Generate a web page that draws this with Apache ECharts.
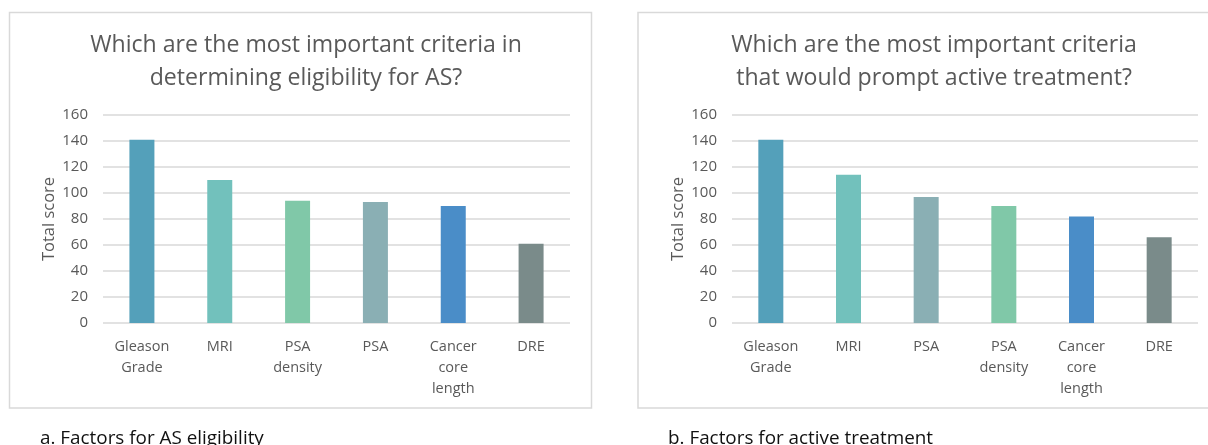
<!DOCTYPE html>
<html><head><meta charset="utf-8">
<script src="https://cdn.jsdelivr.net/npm/echarts@6/dist/echarts.min.js"></script>
<style>html,body{margin:0;padding:0;background:#fff}#c{width:1208px;height:445px}</style>
</head><body><div id="c"></div>
<script>
// ---- data ----
const titleA = 'Which are the most important criteria in\ndetermining eligibility for AS?';
const titleB = 'Which are the most important criteria\nthat would prompt active treatment?';
const captionA = 'a. Factors for AS eligibility';
const captionB = 'b. Factors for active treatment';
const yAxisName = 'Total score';
const categoriesA = ['Gleason Grade', 'MRI', 'PSA density', 'PSA', 'Cancer core length', 'DRE'];
const scoresA = [141, 110, 94, 93, 90, 61];
const categoriesB = ['Gleason Grade', 'MRI', 'PSA', 'PSA density', 'Cancer core length', 'DRE'];
const scoresB = [141, 114, 97, 90, 82, 66];
const yMin = 0, yMax = 160, yStep = 20;

// ---- styles ----
const palette = {
  'Gleason Grade': '#54A0BA',
  'MRI': '#72C1BC',
  'PSA density': '#80C8A8',
  'PSA': '#8AAFB4',
  'Cancer core length': '#4A8DC8',
  'DRE': '#7A8B8A'
};
const FONT = "'Open Sans', sans-serif";
const GRAY = '#595959';
const LINE = '#d9d9d9';

function fitSize(text, target) {
  const ctx = document.createElement('canvas').getContext('2d');
  ctx.font = '100px ' + FONT;
  return 100 * target / ctx.measureText(text).width;
}
const titleSize = fitSize('Which are the most important criteria in', 432);
const captionSize = fitSize(captionA, 224);

function yAxis(gi) {
  return {
    type: 'value', gridIndex: gi, min: yMin, max: yMax, interval: yStep,
    name: yAxisName, nameLocation: 'middle', nameGap: 45,
    nameTextStyle: { fontFamily: FONT, fontSize: 16.5, color: GRAY },
    axisLine: { show: false }, axisTick: { show: false },
    axisLabel: { fontFamily: FONT, fontSize: 15, color: GRAY, margin: 15 },
    splitLine: { lineStyle: { color: LINE, width: 1.5 } }
  };
}
function xAxis(gi, cats) {
  return {
    type: 'category', gridIndex: gi, data: cats,
    axisLine: { show: false }, axisTick: { show: false },
    axisLabel: { interval: 0, fontFamily: FONT, fontSize: 14.5, color: GRAY, margin: 13, lineHeight: 21,
      formatter: v => v.split(' ').join('\n') }
  };
}
function bars(gi, cats, vals) {
  return {
    type: 'bar', xAxisIndex: gi, yAxisIndex: gi, barWidth: 25,
    data: vals.map((v, i) => ({ value: v, itemStyle: { color: palette[cats[i]] } }))
  };
}

const chart = echarts.init(document.getElementById('c'), null, { renderer: 'canvas' });
chart.setOption({
  animation: false,
  backgroundColor: '#fff',
  title: [
    { text: titleA, left: 301, top: 24, textAlign: 'center',
      textStyle: { fontFamily: FONT, fontWeight: 'normal', fontSize: titleSize, color: GRAY, lineHeight: 33 } },
    { text: titleB, left: 929, top: 24, textAlign: 'center',
      textStyle: { fontFamily: FONT, fontWeight: 'normal', fontSize: titleSize, color: GRAY, lineHeight: 33 } },
    { text: captionA, left: 35, top: 421,
      textStyle: { fontFamily: FONT, fontWeight: 'normal', fontSize: captionSize, color: '#111', lineHeight: 26 } },
    { text: captionB, left: 663, top: 421,
      textStyle: { fontFamily: FONT, fontWeight: 'normal', fontSize: captionSize, color: '#111', lineHeight: 26 } }
  ],
  graphic: [
    { type: 'rect', shape: { x: 9.5, y: 12.5, width: 582, height: 395.5 }, silent: true,
      style: { fill: 'none', stroke: LINE, lineWidth: 1.5 } },
    { type: 'rect', shape: { x: 638, y: 12.5, width: 620, height: 395.5 }, silent: true,
      style: { fill: 'none', stroke: LINE, lineWidth: 1.5 } }
  ],
  grid: [
    { left: 103, width: 467, top: 115, height: 208 },
    { left: 732, width: 466, top: 115, height: 208 }
  ],
  xAxis: [xAxis(0, categoriesA), xAxis(1, categoriesB)],
  yAxis: [yAxis(0), yAxis(1)],
  series: [bars(0, categoriesA, scoresA), bars(1, categoriesB, scoresB)]
});
</script></body></html>
